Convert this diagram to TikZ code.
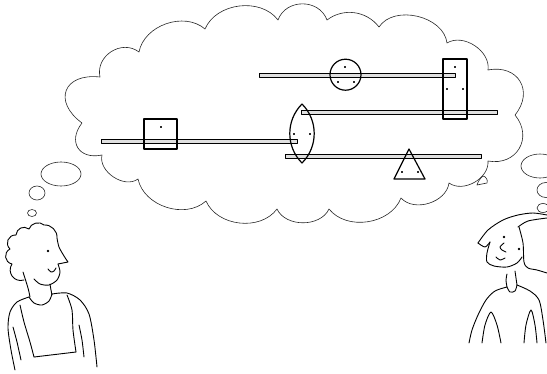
\documentclass[tikz,border=0pt]{standalone}
\usetikzlibrary{shapes.geometric}
\begin{document}
\begin{tikzpicture}[x=1pt,y=-1pt,line join=round,line cap=round,
  cloudline/.style={draw=black!85,line width=0.6pt},
  bubble/.style={draw=black!85,line width=0.6pt,shape=ellipse,inner sep=0pt},
  rail/.style={draw,fill=black!12,line width=0.7pt,minimum height=4pt,minimum width=196pt,inner sep=0pt},
  optic/.style={draw,line width=1.2pt,inner sep=0pt},
  pin/.style={draw,shape=circle,fill=black,inner sep=0pt,minimum size=1.6pt},
  sketch/.style={line width=0.9pt}]
  \useasboundingbox (0,0) rectangle (547,373);
  % thought cloud
  \draw[cloudline] (100,77) to[bend left=70,looseness=1.2] (139,52)
    to[bend left=60] (205,29) to[bend left=60] (278,20)
    to[bend left=70,looseness=1.2] (327,20) to[bend left=45] (379,27)
    to[bend left=70] (447,43) to[bend left=65] (488,70)
    to[bend left=70,looseness=1.5] (515,115) to[bend left=70,looseness=1.4] (488,161)
    to[bend left=65] (449,183) to[bend left=65] (401,198)
    to[bend left=60] (329,209) to[bend left=65] (277,209)
    to[bend left=60] (206,201) to[bend left=60] (138,179)
    to[bend left=70] (102,155) to[bend left=70,looseness=1.6] (82,123)
    to[bend left=75,looseness=1.9] (100,77);
  \draw[cloudline] (477,185) to[bend left=15] (483,176) to[bend left=50] (487,183) -- cycle;
  \node[bubble,minimum width=40pt,minimum height=24pt] (bubL1) at (61,174) {};
  \node[bubble,minimum width=16pt,minimum height=14pt] (bubL2) at (37,193) {};
  \node[bubble,minimum width=9pt,minimum height=7pt] (bubL3) at (32,213) {};
  \node[bubble,minimum width=38pt,minimum height=24pt] (bubR1) at (540,166) {};
  \node[bubble,minimum width=18pt,minimum height=15pt] (bubR2) at (546,190) {};
  \node[bubble,minimum width=12pt,minimum height=9pt] (bubR3) at (543,208) {};
  % rails
  \node[rail] (railA) at (357,75) {};
  \node[rail] (railB) at (399,112) {};
  \node[rail] (railC) at (383.5,156) {};
  \node[rail] (railD) at (199,141.5) {};
  % optics on the rails
  \node[optic,circle,minimum size=31pt] (ball) at (345.5,74.7) {};
  \node[optic,rectangle,minimum width=24pt,minimum height=60pt] (block) at (455,89) {};
  \node[optic,rectangle,minimum width=33pt,minimum height=30pt] (cube) at (160.5,134) {};
  \draw[optic] (302,104) to[bend left=45] (302,163) to[bend left=45] (302,104);
  \draw[optic] (409,149) -- (394,179) -- (425,179) -- cycle;
  \path (345,67) node[pin] (ball1) {} (338,82) node[pin] (ball2) {} (354,82) node[pin] (ball3) {}
    (455,67) node[pin] (block1) {} (447,89) node[pin] (block2) {} (463,89) node[pin] (block3) {}
    (294,134) node[pin] (lens1) {} (310,134) node[pin] (lens2) {}
    (402,172) node[pin] (prism1) {} (418,172) node[pin] (prism2) {}
    (161,127) node[pin] (cube1) {};
  % boy
  \draw[sketch] (24,280) to[bend left=70,looseness=1.3] (12,264) to[bend left=70,looseness=1.3] (10,249)
    to[bend left=70,looseness=1.3] (16,235) to[bend left=60,looseness=1.2] (29,229)
    to[bend left=60] (44,225) to[bend left=50] (57,238);
  \draw[sketch] plot[smooth] coordinates {(57,238) (59,247) (64,256) (68,262)} -- (58,264);
  \draw[sketch] plot[smooth] coordinates {(58,264) (60,272) (57,280) (49,285) (40,284) (34,279)};
  \draw[sketch] plot[smooth] coordinates {(48,269) (51,272) (54,271) (56,268)};
  \node[pin,minimum size=2.2pt] (boyeye) at (48,251) {};
  \draw[sketch] plot[smooth] coordinates {(23,272) (28,288) (30,297)};
  \draw[sketch] plot[smooth] coordinates {(50,284) (51,290) (52,295)};
  \draw[sketch] plot[smooth] coordinates {(29,297) (34,303) (42,305) (49,301) (52,294)};
  \draw[sketch] plot[smooth] coordinates {(29,297) (17,302) (10,312) (8,328) (11,350) (15,370)};
  \draw[sketch] plot[smooth] coordinates {(13,327) (17,342) (21,360)};
  \draw[sketch] plot[smooth] coordinates {(20,305) (24,322) (30,342) (34,357)};
  \draw[sketch] (34,357) -- (76,352);
  \draw[sketch] plot[smooth] coordinates {(76,352) (73,330) (72,310) (67,295)};
  \draw[sketch] plot[smooth] coordinates {(52,294) (67,293) (80,300) (89,314) (94,340) (97,367)};
  \draw[sketch] plot[smooth] coordinates {(79,325) (82,340) (84,357)};
  % girl
  \draw[sketch] plot[smooth] coordinates {(478,243) (488,230) (503,220) (518,215) (533,213) (547,215)};
  \draw[sketch] plot[smooth] coordinates {(478,243) (485,247) (490,242)};
  \draw[sketch] plot[smooth] coordinates {(490,242) (487,253) (487,262) (494,266) (507,267) (517,263) (522,257)};
  \draw[sketch] plot[smooth] coordinates {(519,227) (523,243) (524,262) (528,268) (537,270) (547,273)};
  \draw[sketch] plot[smooth] coordinates {(518,227) (528,221) (547,218)};
  \node[pin,minimum size=2.2pt] (girleye1) at (504,237) {};
  \node[pin,minimum size=2.2pt] (girleye2) at (519,249) {};
  \draw[sketch] plot[smooth] coordinates {(504,243) (500,247) (502,250) (506,252)};
  \draw[sketch] plot[smooth] coordinates {(496,257) (500,260) (505,258)};
  \draw[sketch] plot[smooth] coordinates {(507,274) (506,280) (507,287)};
  \draw[sketch] plot[smooth] coordinates {(515,271) (516,278) (517,285)};
  \draw[sketch] plot[smooth] coordinates {(507,287) (510,292) (515,291) (517,285)};
  \draw[sketch] plot[smooth] coordinates {(507,287) (495,291) (486,300) (478,315) (472,330) (469,343)};
  \draw[sketch] plot[smooth] coordinates {(517,285) (530,291) (539,300) (543,320) (546,343)};
  \draw[sketch] plot[smooth] coordinates {(482,343) (485,325) (491,312) (497,325) (501,343)};
  \draw[sketch] plot[smooth] coordinates {(524,343) (526,325) (531,310) (535,325) (537,343)};
\end{tikzpicture}
\end{document}
